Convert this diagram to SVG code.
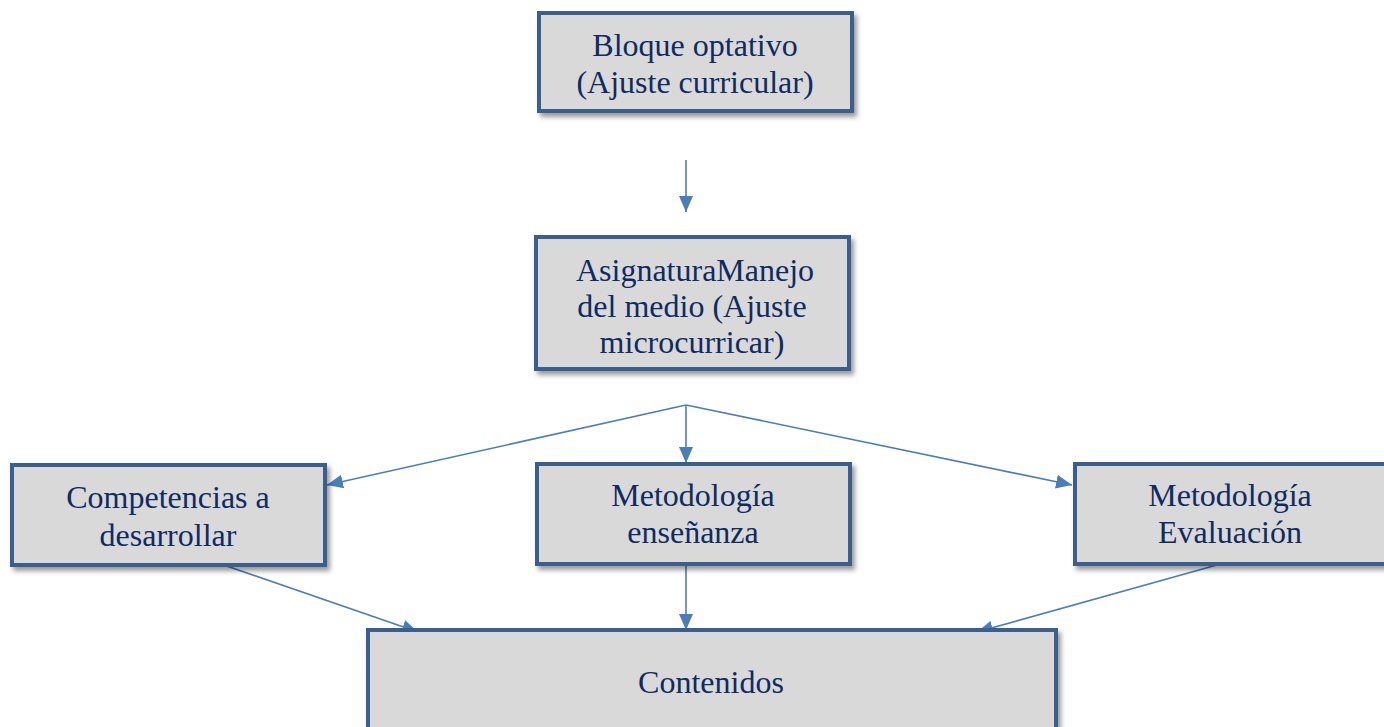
<svg xmlns="http://www.w3.org/2000/svg" width="1384" height="727" viewBox="0 0 1384 727">
<style>
.box{fill:#d9d9d9;stroke:#3b5e8c;stroke-width:4;filter:url(#sh)}
.t{font-size:32px;fill:#0f2b62;text-anchor:middle}
.c{stroke:#4a7ebb;stroke-width:1.6;fill:none}
</style>
<defs>
<filter id="sh" x="-10%" y="-10%" width="130%" height="140%">
<feDropShadow dx="3" dy="4" stdDeviation="2.5" flood-color="#000" flood-opacity="0.4"/>
</filter>
<marker id="ah" viewBox="0 0 16 14" refX="16" refY="7" markerWidth="16" markerHeight="14" markerUnits="userSpaceOnUse" orient="auto" preserveAspectRatio="none">
<path d="M0,0 L16,7 L0,14 z" fill="#4a7ebb"/>
</marker>
</defs>
<rect width="1384" height="727" fill="#fff"/>
<g id="connectors">
<path class="c" marker-end="url(#ah)" d="M686,160 L686,212"/>
<path class="c" marker-end="url(#ah)" d="M686,405 L327,485"/>
<path class="c" marker-end="url(#ah)" d="M686,405 L686,463"/>
<path class="c" marker-end="url(#ah)" d="M686,405 L1072,485"/>
<path class="c" marker-end="url(#ah)" d="M218,563 L418,632"/>
<path class="c" marker-end="url(#ah)" d="M686,566 L686,630"/>
<path class="c" marker-end="url(#ah)" d="M1224,563 L977,632"/>
</g>
<g font-family="Liberation Serif, Times New Roman, serif">
<g id="n1"><rect class="box" x="539" y="13" width="313" height="98"/>
<text class="t" x="695" y="56">Bloque optativo</text>
<text class="t" x="695" y="93">(Ajuste curricular)</text></g>
<g id="n2"><rect class="box" x="536" y="237" width="313" height="132"/>
<text class="t" x="695" y="281">AsignaturaManejo</text>
<text class="t" x="692" y="317">del medio (Ajuste</text>
<text class="t" x="692" y="353">microcurricar)</text></g>
<g id="n3"><rect class="box" x="12" y="465" width="313" height="100"/>
<text class="t" x="168" y="508">Competencias a</text>
<text class="t" x="168" y="546">desarrollar</text></g>
<g id="n4"><rect class="box" x="537" y="464" width="313" height="100"/>
<text class="t" x="693" y="506">Metodología</text>
<text class="t" x="693" y="543">enseñanza</text></g>
<g id="n5"><rect class="box" x="1075" y="464" width="313" height="100"/>
<text class="t" x="1230" y="506">Metodología</text>
<text class="t" x="1230" y="543">Evaluación</text></g>
<g id="n6"><rect class="box" x="368" y="630" width="688" height="110"/>
<text class="t" x="711" y="693">Contenidos</text></g>
</g>
</svg>
